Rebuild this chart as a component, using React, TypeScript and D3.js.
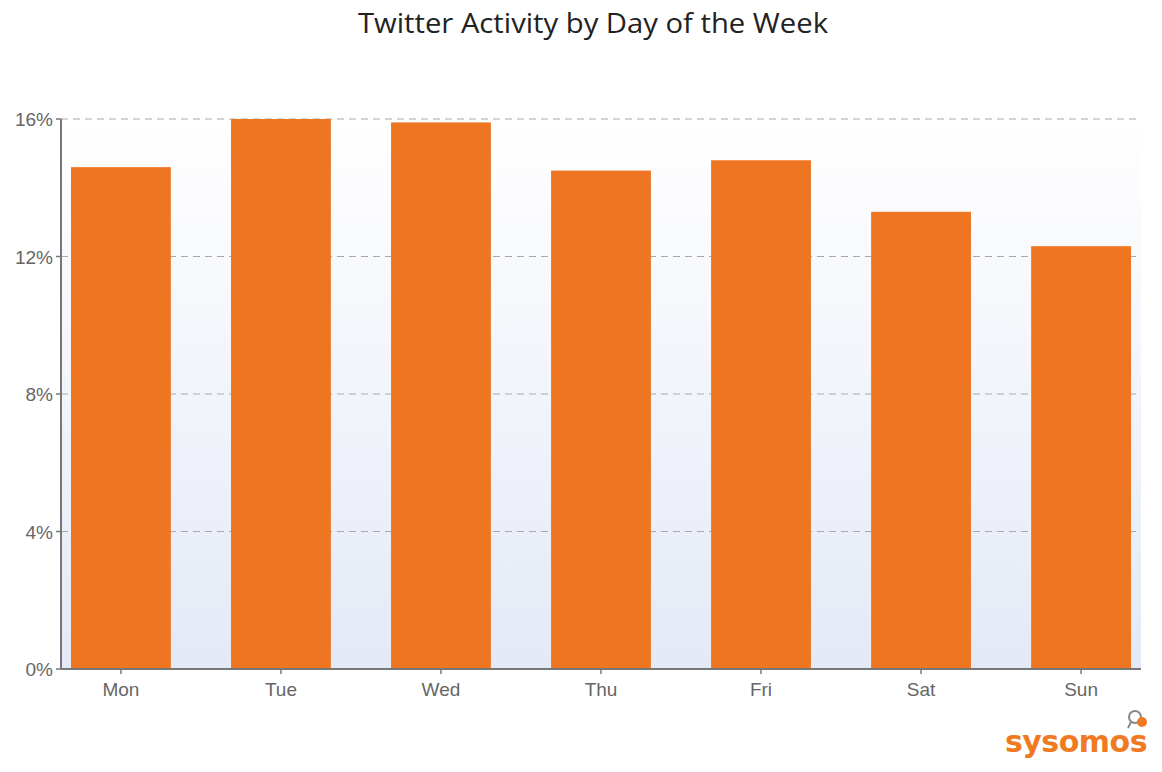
import React from "react";
import * as d3 from "d3";

const days = ["Mon", "Tue", "Wed", "Thu", "Fri", "Sat", "Sun"];
const activity = [14.6, 16.0, 15.9, 14.5, 14.8, 13.3, 12.3];
const yTicks = [0, 4, 8, 12, 16];
const title = "Twitter Activity by Day of the Week";

export default function App() {
  const W = 1162, H = 772;
  const x0 = 61, x1 = 1141, yTop = 119, yBot = 669;
  const x = d3.scaleBand<string>().domain(days).range([x0, x1]).paddingInner(0.376).paddingOuter(0.0625);
  const y = d3.scaleLinear().domain([0, 16]).range([yBot, yTop]);
  const axisColor = "#777";
  const labelColor = "#666";
  return (
    <svg width={W} height={H} style={{ position: "absolute", left: 0, top: 0 }}>
      <defs>
        <linearGradient id="bg" x1="0" y1="0" x2="0" y2="1">
          <stop offset="0%" stopColor="#ffffff" />
          <stop offset="100%" stopColor="#e4e9f6" />
        </linearGradient>
      </defs>
      <rect width={W} height={H} fill="#fff" />
      <text x={593} y={33} textAnchor="middle" fontFamily="'Open Sans', sans-serif" fontSize={28} fill="#222" textLength={470} lengthAdjust="spacingAndGlyphs">
        {title}
      </text>
      <rect x={x0} y={yTop} width={x1 - x0} height={yBot - yTop} fill="url(#bg)" />
      {yTicks.filter((t) => t > 0).map((t) => (
        <line key={t} x1={x0} x2={x1} y1={y(t)} y2={y(t)} stroke="#aaa" strokeWidth={1} strokeDasharray="7,5" />
      ))}
      {days.map((d, i) => (
        <rect key={d} x={x(d)} y={y(activity[i])} width={x.bandwidth()} height={yBot - y(activity[i])} fill="#ee7623" />
      ))}
      <line x1={x0} x2={x0} y1={yTop} y2={yBot} stroke={axisColor} strokeWidth={2} />
      <line x1={x0} x2={x1} y1={yBot} y2={yBot} stroke={axisColor} strokeWidth={2} />
      {yTicks.map((t) => (
        <g key={t}>
          <line x1={x0 - 5} x2={x0} y1={y(t)} y2={y(t)} stroke={axisColor} strokeWidth={1.5} />
          <text x={x0 - 8} y={y(t) + 7} textAnchor="end" fontFamily="'Liberation Sans', Arial, sans-serif" fontSize={19} fill={labelColor}>
            {t}%
          </text>
        </g>
      ))}
      {days.map((d) => {
        const cx = (x(d) as number) + x.bandwidth() / 2;
        return (
          <g key={d}>
            <line x1={cx} x2={cx} y1={yBot} y2={yBot + 5} stroke={axisColor} strokeWidth={1.5} />
            <text x={cx} y={yBot + 27} textAnchor="middle" fontFamily="'Liberation Sans', Arial, sans-serif" fontSize={19} fill={labelColor}>
              {d}
            </text>
          </g>
        );
      })}
      <g>
        <text x={1076} y={752} textAnchor="middle" fontFamily="'DejaVu Sans', sans-serif" fontWeight="bold" fontSize={30} fill="#f07a22" letterSpacing={-0.5}>
          sysomos
        </text>
        <circle cx={1135} cy={717} r={6} fill="none" stroke="#888" strokeWidth={2} />
        <line x1={1131} y1={722} x2={1128} y2={728} stroke="#888" strokeWidth={2} />
        <circle cx={1142} cy={722} r={5} fill="#f07a22" />
      </g>
    </svg>
  );
}
